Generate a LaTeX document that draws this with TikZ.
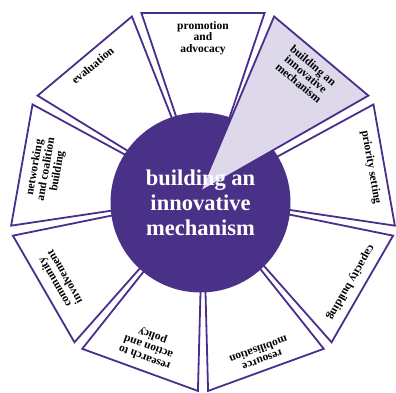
\documentclass[tikz,border=0pt]{standalone}
\usepackage{fontspec}
\setmainfont{Liberation Serif}
\usetikzlibrary{calc}
\definecolor{linec}{RGB}{75,46,140}
\definecolor{circc}{RGB}{72,49,135}
\definecolor{hilite}{RGB}{221,216,234}
\tikzset{
  wedge/.style={draw=linec, line width=1.8pt, fill=white, line join=miter},
  hiwedge/.style={draw=linec, line width=1.8pt, fill=hilite, line join=miter},
  lbl/.style={font=\fontsize{11.5}{11.5}\selectfont\bfseries, align=center, inner sep=0pt, anchor=north, text=black},
  centertext/.style={font=\fontsize{22.5}{25}\selectfont\bfseries, align=center, text=white, inner sep=0pt},
}
\begin{document}
\begin{tikzpicture}[x=1pt,y=1pt]
\useasboundingbox (0,0) rectangle (396,393);
\coordinate (O) at (203,196);
\coordinate (C) at (200.5,190.5);
% white wedges
\foreach \a in {90,10,-30,-70,-110,-150,170,130}{
  \draw[wedge, shift={(O)}] (0,0) -- (\a-18.5:194) -- (\a+18.5:194) -- cycle;
}
\node[lbl, rotate=0]    (t90)  at ($(O)+(90:176)$)  {promotion\\and\\advocacy};
\node[lbl, rotate=-80]  (t10)  at ($(O)+(10:176)$)  {priority setting};
\node[lbl, rotate=-120] (tm30) at ($(O)+(-30:176)$) {capacity building};
\node[lbl, rotate=-160] (tm70) at ($(O)+(-70:176)$) {resource\\mobilisation};
\node[lbl, rotate=160]  (tm110) at ($(O)+(-110:176)$) {research to\\action and\\policy};
\node[lbl, rotate=120]  (tm150) at ($(O)+(-150:176)$) {community\\involvement};
\node[lbl, rotate=80]   (t170) at ($(O)+(170:176)$) {networking\\and coalition\\building};
\node[lbl, rotate=40]   (t130) at ($(O)+(130:176)$) {evaluation};
% centre circle
\node[circle, fill=circc, minimum size=180pt, inner sep=0pt] (hub) at (C) {};
% highlighted wedge
\coordinate (A) at (200,201);
\draw[hiwedge] (A) -- ($(O)+(31.5:194)$) -- ($(O)+(68.5:194)$) -- cycle;
\node[lbl, rotate=-40] (t50) at ($(O)+(50:176)$) {building an\\innovative\\mechanism};
\node[centertext] (hubtext) at (C) {building an\\innovative\\mechanism};
\end{tikzpicture}
\end{document}
